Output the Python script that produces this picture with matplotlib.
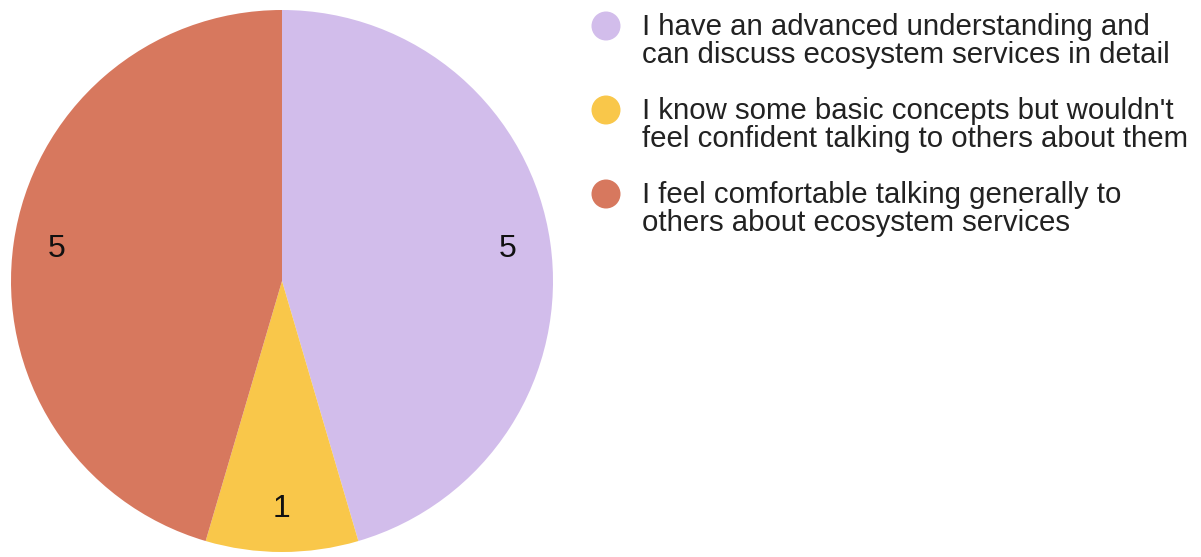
import matplotlib.pyplot as plt

# response counts, clockwise from 12 o'clock
answers = [
    "I have an advanced understanding and\ncan discuss ecosystem services in detail",
    "I know some basic concepts but wouldn't\nfeel confident talking to others about them",
    "I feel comfortable talking generally to\nothers about ecosystem services",
]
counts = [5, 1, 5]
colors = ["#d2bdeb", "#f9c74a", "#d7785e"]

W, H = 1201, 557
plt.rcParams["font.family"] = ["Liberation Sans", "DejaVu Sans"]

fig = plt.figure(figsize=(W / 100, H / 100), dpi=100)

# pie axes, placed in pixel terms
cx, cy, r = 282, 281, 271
ax = fig.add_axes([(cx - r) / W, (H - cy - r) / H, 2 * r / W, 2 * r / H])
wedges, texts = ax.pie(
    counts,
    colors=colors,
    startangle=90,
    counterclock=False,
    labels=[str(c) for c in counts],
    labeldistance=0.84,
    textprops={"fontsize": 23, "color": "#111111", "ha": "center", "va": "center"},
    wedgeprops={"linewidth": 0},
)
ax.set_xlim(-1, 1)
ax.set_ylim(-1, 1)
ax.axis("off")

# legend drawn on a full-figure overlay in pixel coordinates
ov = fig.add_axes([0, 0, 1, 1])
ov.set_xlim(0, W)
ov.set_ylim(H, 0)
ov.axis("off")
for i, (label, col) in enumerate(zip(answers, colors)):
    y = 26 + i * 84
    ov.scatter([606], [y], s=436, color=col, edgecolors="none")
    # baseline of the second line sits ~37px below the marker centre
    ov.text(642, y + 37, label, fontsize=21.2, color="#222222",
            ha="left", va="baseline", linespacing=1.0)

fig.savefig("out.png", dpi=100)
